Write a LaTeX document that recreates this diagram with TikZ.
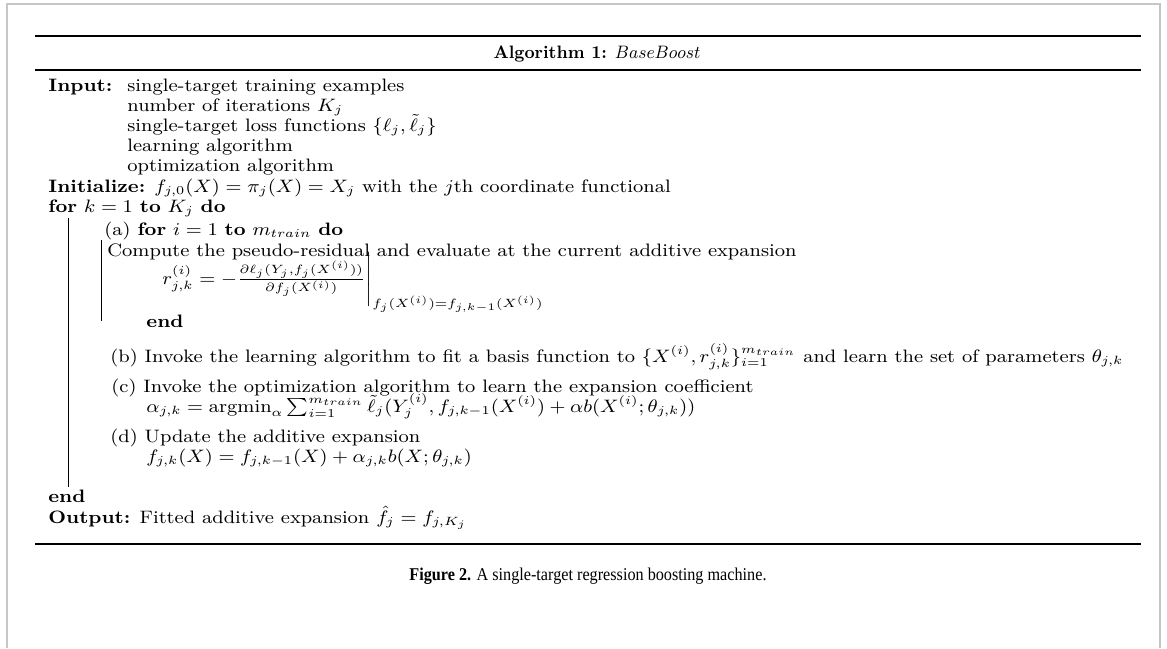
\documentclass[tikz,border=0pt]{standalone}
\usepackage{amsmath,amssymb}
\usepackage{graphicx}
\usepackage{fontspec}
\newfontfamily\capfont{Liberation Serif}
\newcommand\hs[1]{\scalebox{1.11}[1]{#1}}
\begin{document}
\begin{tikzpicture}[x=0.5pt,y=-0.5pt,
  txt/.style={anchor=base west, inner sep=0pt, font=\fontsize{9.0}{11}\selectfont},
  heavyrule/.style={line width=1.1pt},
  barline/.style={line width=0.5pt},
  frameline/.style={gray!45, line width=1.1pt}]
\useasboundingbox (0,0) rectangle (1167,648);
% outer frame
\coordinate (f1) at (7,648); \coordinate (f2) at (7,4);
\coordinate (f3) at (1160,4); \coordinate (f4) at (1160,648);
\draw[frameline] (f1) -- (f2) -- (f3) -- (f4);
% rules
\coordinate (ra) at (35,36); \coordinate (rb) at (1141,36);
\coordinate (rc) at (35,70); \coordinate (rd) at (1141,70);
\coordinate (re) at (35,544); \coordinate (rf) at (1141,544);
\draw[heavyrule] (ra) -- (rb);
\draw[heavyrule] (rc) -- (rd);
\draw[heavyrule] (re) -- (rf);
% title
\node[txt, anchor=base] (title) at (597,58) {\scalebox{0.95}[1]{\textbf{Algorithm 1:} $BaseBoost$}};
% input
\node[txt] (inl) at (48,91) {\hs{\textbf{Input:}}};
\node[txt] (in1) at (127,91) {\hs{single-target training examples}};
\node[txt] (in2) at (127,111) {\hs{number of iterations $K_j$}};
\node[txt] (in3) at (127,131) {\hs{single-target loss functions $\{\ell_j,\tilde{\ell}_j\}$}};
\node[txt] (in4) at (127,151) {\hs{learning algorithm}};
\node[txt] (in5) at (127,171) {\hs{optimization algorithm}};
\node[txt] (init) at (48,192) {\hs{\textbf{Initialize:} $f_{j,0}(X)=\pi_j(X)=X_j$ with the $j$th coordinate functional}};
\node[txt] (for1) at (48,212) {\hs{\textbf{for} $k=1$ \textbf{to} $K_j$ \textbf{do}}};
\node[txt] (a) at (104,235) {\hs{(a) \textbf{for} $i=1$ \textbf{to} $m_{train}$ \textbf{do}}};
\node[txt] (comp) at (107,256) {\hs{Compute the pseudo-residual and evaluate at the current additive expansion}};
\node[txt] (rform) at (162,284) {\hs{$r^{(i)}_{j,k}=-\frac{\partial\ell_j(Y_j,f_j(X^{(i)}))}{\partial f_j(X^{(i)})}\Biggr|_{f_j(X^{(i)})=f_{j,k-1}(X^{(i)})}$}};
\node[txt] (end1) at (146,327) {\hs{\textbf{end}}};
\node[txt] (b) at (110,362) {\hs{(b) Invoke the learning algorithm to fit a basis function to $\{X^{(i)},r^{(i)}_{j,k}\}_{i=1}^{m_{train}}$ and learn the set of parameters $\theta_{j,k}$}};
\node[txt] (c) at (111,392) {\hs{(c) Invoke the optimization algorithm to learn the expansion coefficient}};
\node[txt] (cf) at (146,412) {\hs{$\alpha_{j,k}=\operatorname{argmin}_\alpha\sum_{i=1}^{m_{train}}\tilde{\ell}_j(Y^{(i)}_j,f_{j,k-1}(X^{(i)})+\alpha b(X^{(i)};\theta_{j,k}))$}};
\node[txt] (d) at (110,442) {\hs{(d) Update the additive expansion}};
\node[txt] (df) at (146,462) {\hs{$f_{j,k}(X)=f_{j,k-1}(X)+\alpha_{j,k}b(X;\theta_{j,k})$}};
\node[txt] (end2) at (48,502) {\hs{\textbf{end}}};
\node[txt] (out) at (48,523) {\hs{\textbf{Output:} Fitted additive expansion $\hat{f}_j=f_{j,K_j}$}};
% block lines
\coordinate (v1a) at (68,218); \coordinate (v1b) at (68,487);
\coordinate (v2a) at (101,240); \coordinate (v2b) at (101,321);
\draw[barline] (v1a) -- (v1b);
\draw[barline] (v2a) -- (v2b);
% caption
\node[anchor=base, inner sep=0pt, font=\capfont\fontsize{9}{11}\selectfont] (cap) at (588,580) {\scalebox{0.9}[1]{\textbf{Figure 2.} A single-target regression boosting machine.}};
\end{tikzpicture}
\end{document}
